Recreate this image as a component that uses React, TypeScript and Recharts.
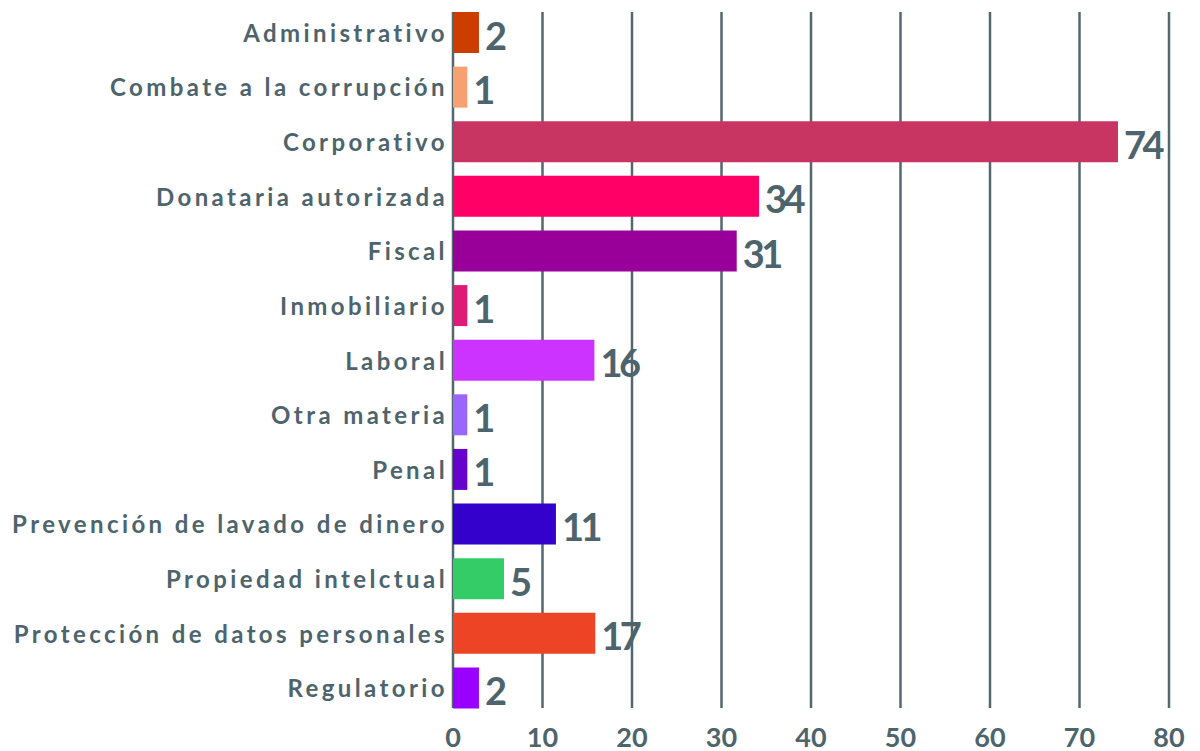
import { BarChart, Bar, XAxis, YAxis, CartesianGrid, Cell, LabelList } from 'recharts';

const categories = [
  'Administrativo',
  'Combate a la corrupción',
  'Corporativo',
  'Donataria autorizada',
  'Fiscal',
  'Inmobiliario',
  'Laboral',
  'Otra materia',
  'Penal',
  'Prevención de lavado de dinero',
  'Propiedad intelctual',
  'Protección de datos personales',
  'Regulatorio',
];

// bar lengths as drawn in the picture
const barLengths = [2.9, 1.6, 74.3, 34.2, 31.7, 1.6, 15.8, 1.6, 1.6, 11.5, 5.7, 15.9, 2.9];
// numbers printed next to the bars
const printedCounts = ['2', '1', '74', '34', '31', '1', '16', '1', '1', '11', '5', '17', '2'];

const barColors = [
  '#CC3D00',
  '#F7A172',
  '#C93562',
  '#FF0066',
  '#990099',
  '#DE1B77',
  '#CC33FF',
  '#9966FF',
  '#6600CC',
  '#3300CC',
  '#33CC66',
  '#EE4426',
  '#9900FF',
];

const xTicks = [0, 10, 20, 30, 40, 50, 60, 70, 80];

const TEXT = '#4E646D';
const GRID = '#53676F';
const FONT = 'Lato, "Open Sans", sans-serif';

const data = categories.map((name, i) => ({
  name,
  value: barLengths[i],
  label: printedCounts[i],
}));

function CategoryTick({ x, y, payload }: any) {
  return (
    <text
      x={x + 1}
      y={y}
      textAnchor="end"
      dominantBaseline="central"
      fill={TEXT}
      fontFamily={FONT}
      fontWeight={700}
      fontSize={24}
      letterSpacing={3.4}
    >
      {payload.value}
    </text>
  );
}

function ValueTick({ x, y, payload }: any) {
  return (
    <text
      x={x}
      y={y + 13}
      textAnchor="middle"
      dominantBaseline="central"
      fill={TEXT}
      fontFamily={FONT}
      fontWeight={700}
      fontSize={27}
    >
      {payload.value}
    </text>
  );
}

function CountLabel({ x, y, width, height, index }: any) {
  return (
    <text
      x={x + width + 6}
      y={y + height / 2 + 2}
      dominantBaseline="central"
      fill={TEXT}
      fontFamily={FONT}
      fontWeight={700}
      fontSize={38}
      letterSpacing={-3.5}
    >
      {printedCounts[index]}
    </text>
  );
}

function GridLine(props: any) {
  const { x1, x2, y1, y2 } = props;
  return <line x1={x1} x2={x2} y1={y1 + 7} y2={y2 - 7} stroke={GRID} strokeWidth={2.5} />;
}

export default function App() {
  return (
    <div style={{ position: 'absolute', left: 0, top: 0, width: 1200, height: 751, background: '#fff' }}>
      <BarChart
        width={1200}
        height={751}
        data={data}
        layout="vertical"
        margin={{ top: 5, right: 31, bottom: 0, left: 0 }}
        barSize={41}
      >
        <CartesianGrid horizontal={false} vertical={GridLine} />
        <XAxis
          type="number"
          domain={[0, 80]}
          ticks={xTicks}
          height={36}
          axisLine={false}
          tickLine={false}
          tick={<ValueTick />}
        />
        <YAxis
          type="category"
          dataKey="name"
          width={453}
          axisLine={false}
          tickLine={false}
          tickMargin={0}
          tick={<CategoryTick />}
        />
        <Bar dataKey="value" isAnimationActive={false}>
          {data.map((d, i) => (
            <Cell key={d.name} fill={barColors[i]} />
          ))}
          <LabelList dataKey="label" content={<CountLabel />} />
        </Bar>
      </BarChart>
    </div>
  );
}
